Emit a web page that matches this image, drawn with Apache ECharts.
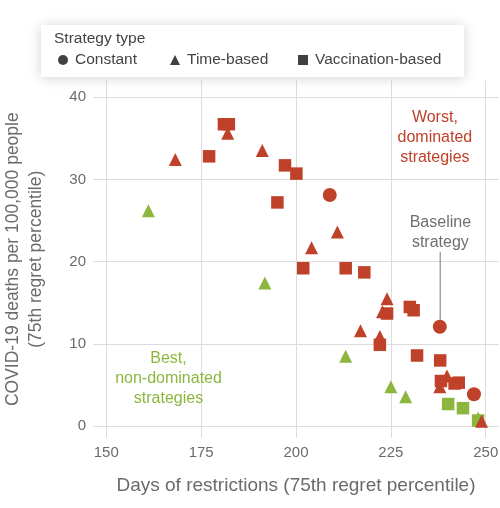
<!DOCTYPE html>
<html><head><meta charset="utf-8">
<script src="https://cdn.jsdelivr.net/npm/echarts@6/dist/echarts.min.js"></script>
<style>html,body{margin:0;padding:0;background:#fff}#c{width:500px;height:508px}</style>
</head><body><div id="c"></div>
<script>
const xTicks = [150, 175, 200, 225, 250];
const yTicks = [0, 10, 20, 30, 40];
const legendNames = ['Constant', 'Time-based', 'Vaccination-based'];

// [days, deaths]
const redConstant = [[208.9, 28.1], [237.9, 12.1], [246.9, 3.9]];
const redTime = [[168.2, 32.4], [182.0, 35.6], [191.1, 33.5], [210.9, 23.6], [204.1, 21.7],
  [224.0, 15.5], [222.8, 13.9], [217.0, 11.6], [222.1, 10.9], [239.8, 6.1], [237.9, 4.8], [248.9, 0.6]];
const redVacc = [[177.1, 32.8], [181.0, 36.7], [182.3, 36.7], [197.1, 31.7], [200.1, 30.7], [195.1, 27.2],
  [201.9, 19.2], [213.1, 19.2], [218.0, 18.7], [224.0, 13.7], [230.0, 14.5], [231.0, 14.1], [222.1, 9.9],
  [231.9, 8.6], [238.0, 8.0], [238.2, 5.5], [241.8, 5.2], [242.9, 5.3]];
const greenTime = [[161.1, 26.2], [191.8, 17.4], [213.1, 8.5], [225.0, 4.8], [228.9, 3.6], [248.0, 1.0]];
const greenVacc = [[240.1, 2.7], [244.0, 2.2], [248.0, 0.7]];

const baselineLine = [[238.0, 21.2], [238.0, 12.9]];
const notes = [
  {text: 'Worst,\ndominated\nstrategies', at: [236.6, 35.1], color: '#c0412a'},
  {text: 'Baseline\nstrategy', at: [238.05, 23.5], color: '#6f6f6f'},
  {text: 'Best,\nnon-dominated\nstrategies', at: [166.4, 5.8], color: '#8db63f'}
];

const RED = '#c0412a', GREEN = '#8db63f';
const FONT = '"Liberation Sans", Arial, Helvetica, sans-serif';

const chart = echarts.init(document.getElementById('c'));
const mk = (name, data, color, symbol, size) => ({
  name, type: 'scatter', data, symbol, symbolSize: size,
  itemStyle: {color, opacity: 1}, emphasis: {disabled: true}, z: 3
});
const option = {
  animation: false,
  textStyle: {fontFamily: FONT},
  grid: {left: 93, right: 1, top: 80.6, bottom: 70.2, containLabel: false, outerBoundsMode: 'none'},
  xAxis: {
    type: 'value', min: 146.5, max: 253.5,
    axisLine: {show: false},
    axisTick: {show: false, customValues: xTicks},
    axisLabel: {customValues: xTicks, color: '#6b6b6b', fontSize: 15, margin: 8, fontFamily: FONT},
    splitLine: {show: true, lineStyle: {color: '#dcdcdc', width: 1}},
    name: 'Days of restrictions (75th regret percentile)',
    nameLocation: 'middle', nameGap: 38,
    nameTextStyle: {color: '#6b6b6b', fontSize: 19, fontFamily: FONT}
  },
  yAxis: {
    type: 'value', min: -1.4, max: 42,
    axisLine: {show: false},
    axisTick: {show: false, customValues: yTicks},
    axisLabel: {customValues: yTicks, color: '#6b6b6b', fontSize: 15, margin: 7, fontFamily: FONT},
    splitLine: {show: true, lineStyle: {color: '#dcdcdc', width: 1}},
    name: 'COVID-19 deaths per 100,000 people\n(75th regret percentile)',
    nameLocation: 'middle', nameGap: 45,
    nameTextStyle: {color: '#6b6b6b', fontSize: 17.5, lineHeight: 23, fontFamily: FONT}
  },
  title: {
    text: 'Strategy type', left: 54, top: 31, z: 10, padding: 0,
    textStyle: {color: '#444', fontSize: 15.5, fontWeight: 'normal', fontFamily: FONT}
  },
  legend: [
    {data: [{name: legendNames[0], icon: 'circle'}], left: 58, top: 52, itemWidth: 10, itemHeight: 10},
    {data: [{name: legendNames[1], icon: 'triangle'}], left: 170, top: 52, itemWidth: 10, itemHeight: 10},
    {data: [{name: legendNames[2], icon: 'rect'}], left: 298, top: 52, itemWidth: 10, itemHeight: 10}
  ].map(l => Object.assign(l, {
    selectedMode: false, orient: 'horizontal', padding: 0, itemGap: 0, z: 10,
    textStyle: {color: '#444', fontSize: 15.5, fontFamily: FONT, padding: [0, 0, 0, 2]}
  })),
  graphic: [{
    type: 'rect', left: 41, top: 25, z: 3,
    shape: {width: 423, height: 52},
    style: {fill: '#fff', shadowBlur: 12, shadowColor: 'rgba(0,0,0,0.18)', shadowOffsetY: 1}
  }],
  series: [
    {name: legendNames[0], type: 'scatter', data: [], itemStyle: {color: '#111'}, symbol: 'circle'},
    {name: legendNames[1], type: 'scatter', data: [], itemStyle: {color: '#111'}, symbol: 'triangle'},
    {name: legendNames[2], type: 'scatter', data: [], itemStyle: {color: '#111'}, symbol: 'rect'},
    mk('gt', greenTime, GREEN, 'triangle', 13),
    mk('gv', greenVacc, GREEN, 'rect', 12.5),
    mk('rt', redTime, RED, 'triangle', 13),
    mk('rv', redVacc, RED, 'rect', 12.5),
    mk('rc', redConstant, RED, 'circle', 14),
    {
      type: 'line', data: baselineLine, symbol: 'none', z: 2,
      lineStyle: {color: '#777', width: 1}, silent: true
    }
  ]
};
chart.setOption(option);

const g = notes.map(n => {
  const p = chart.convertToPixel({gridIndex: 0}, n.at);
  return {
    type: 'text', x: p[0], y: p[1], z: 50,
    style: {text: n.text, fill: n.color, font: '16px ' + FONT, lineHeight: 20,
      align: 'center', verticalAlign: 'middle'}
  };
});
chart.setOption({graphic: option.graphic.concat(g)});
</script>
</body></html>
